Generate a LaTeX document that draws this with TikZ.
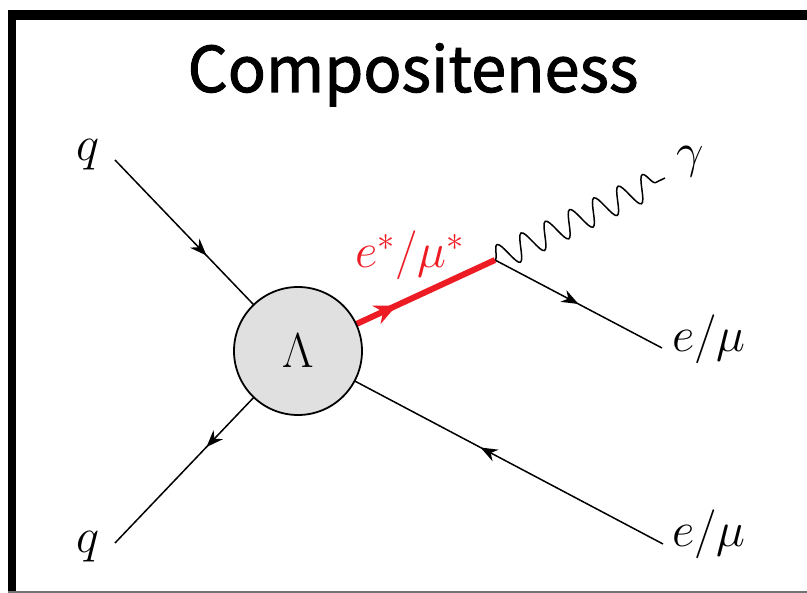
\RequirePackage{fix-cm}
\documentclass[tikz,border=0pt]{standalone}
\usepackage{fontspec}
\newfontfamily\headfont{Noto Sans CJK KR}[FakeBold=1.6]
\usetikzlibrary{arrows.meta,decorations.markings,decorations.pathmorphing}
\definecolor{starred}{RGB}{237,28,36}
\definecolor{blobgray}{RGB}{224,224,224}
\newcommand\legfont{\fontsize{49}{53}\selectfont}
\tikzset{
  fermion/.style = {draw, line width=1.5pt, postaction={decorate},
    decoration={markings, mark=at position 0.5 with {\arrow{Stealth[length=17pt,width=13pt]}}}},
  heavy/.style   = {draw=starred, line width=6pt, postaction={decorate},
    decoration={markings, mark=at position 0.5 with {\arrow[starred]{Stealth[length=22pt,width=20pt]}}}},
  photon/.style  = {draw, line width=1.5pt, decorate,
    decoration={snake, segment length=26.9pt, amplitude=13pt}},
  blob/.style    = {circle, draw, line width=1.8pt, fill=blobgray, minimum size=128pt,
    inner sep=0pt, font=\legfont},
  leg/.style     = {inner sep=0pt, font=\legfont}
}
\begin{document}
\begin{tikzpicture}[x=1pt, y=-1pt]
  \useasboundingbox (0,0) rectangle (807,593);
  % frame
  \fill (8,10) rectangle (807,20);
  \fill (8,10) rectangle (16,593);
  \draw[line width=1.5pt, black!55] (8,592) -- (807,592);

  \node[anchor=base, font=\headfont\fontsize{63}{69}\selectfont] (title) at (413,92) {Compositeness};

  % end points
  \coordinate (vc)   at (298,351);
  \coordinate (qa)   at (115,160);
  \coordinate (qb)   at (115,543);
  \coordinate (vtx)  at (495,260);
  \coordinate (la)   at (662,348);
  \coordinate (lb)   at (663,544);
  \coordinate (gend) at (665,178);

  % labels
  \node[leg, anchor=base west] (qalab) at (76,161) {$q$};
  \node[leg, anchor=base west] (qblab) at (76,553) {$q$};
  \node[leg, anchor=base west] (galab) at (676,168) {$\gamma$};
  \node[leg, anchor=base west] (lalab) at (672,352) {$e/\mu$};
  \node[leg, anchor=base west] (lblab) at (672,547) {$e/\mu$};
  \node[leg, anchor=base west, text=starred] (exlab) at (355,268) {$e^*/\mu^*$};

  % lines
  \draw[fermion] (qa) -- (vc);
  \draw[fermion] (vc) -- (qb);
  \draw[fermion] (lb) -- (vc);
  \draw[fermion] (vtx) -- (la);
  \draw[photon] (vtx) -- (gend);
  \draw[heavy] (vc) -- (vtx);

  \node[blob] (blob) at (vc) {$\Lambda$};
\end{tikzpicture}
\end{document}
